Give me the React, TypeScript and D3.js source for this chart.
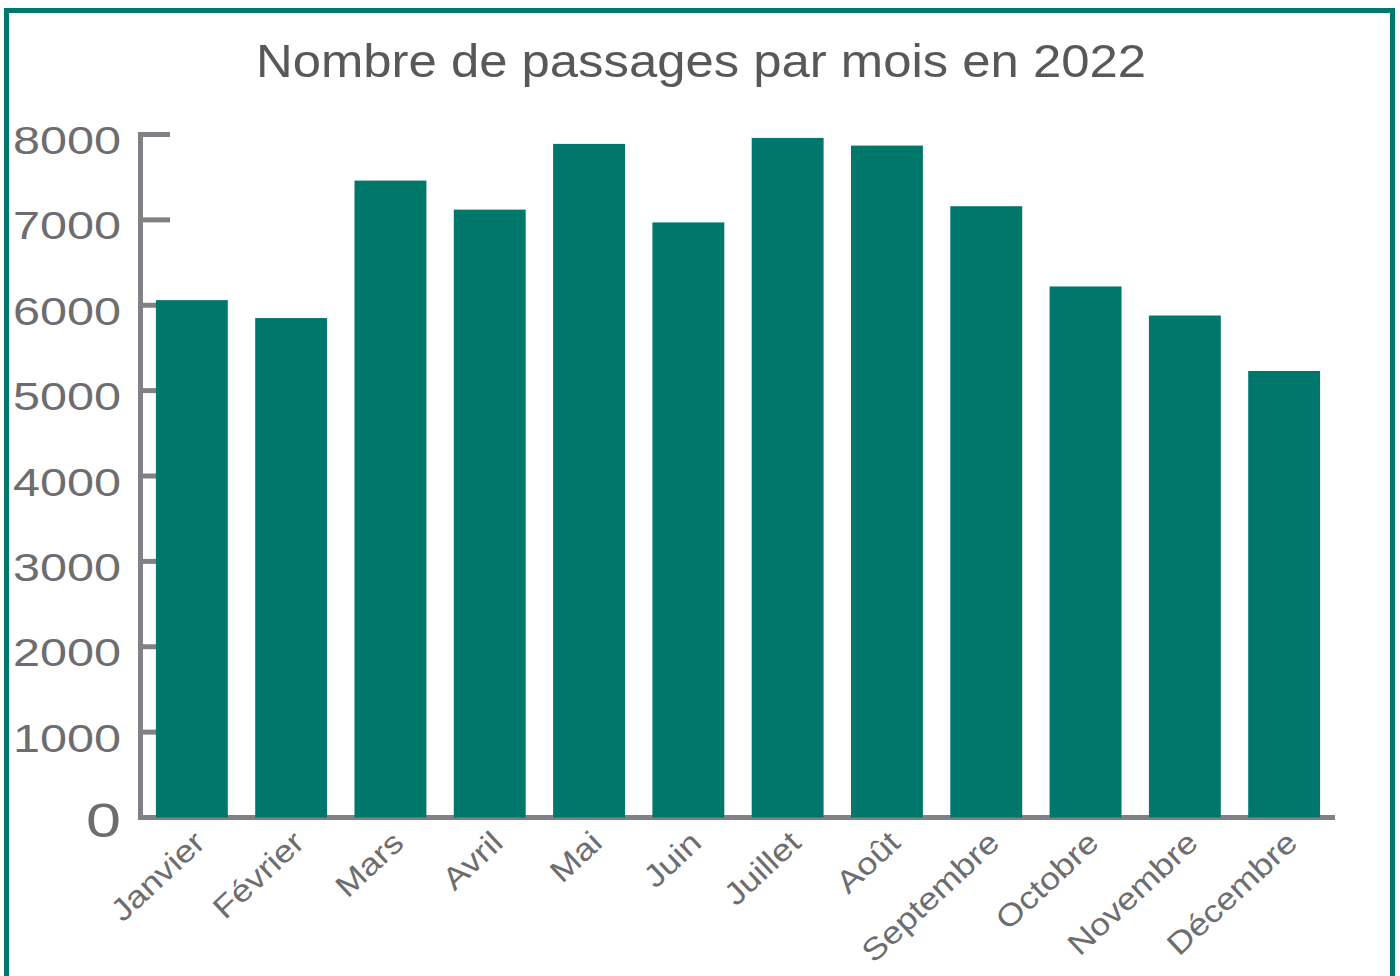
import React from "react";
import * as d3 from "d3";

const months = ["Janvier", "Février", "Mars", "Avril", "Mai", "Juin", "Juillet", "Août", "Septembre", "Octobre", "Novembre", "Décembre"];
const passages = [6060, 5850, 7460, 7120, 7890, 6970, 7960, 7870, 7160, 6220, 5880, 5230];
const yTicks = [0, 1000, 2000, 3000, 4000, 5000, 6000, 7000, 8000];
const title = "Nombre de passages par mois en 2022";

const W = 1400;
const H = 976;
const TEAL = "#00776B";
const AXIS = "#818185";
const LABEL = "#6d6d6f";
const FONT = "'Liberation Sans', Arial, Helvetica, sans-serif";

export default function App() {
  const y = d3.scaleLinear().domain([0, 8000]).range([817.5, 134.5]);
  const x = d3.scaleBand<string>().domain(months).range([141, 1335]).paddingInner(0.276).paddingOuter(0.15);
  const axisX = 140.5;

  return (
    <svg width={W} height={H} style={{ position: "absolute", left: 0, top: 0, background: "#fff" }} fontFamily={FONT}>
      <rect x={0} y={0} width={W} height={H} fill="#fff" />
      <rect x={6.5} y={10.5} width={1386} height={1000} fill="none" stroke={TEAL} strokeWidth={5} />
      <text x={701} y={77} textAnchor="middle" fontSize={47} fill="#58585a" textLength={890} lengthAdjust="spacingAndGlyphs">
        {title}
      </text>
      {/* y axis */}
      <line x1={axisX} x2={axisX} y1={y(8000) - 2.5} y2={y(0) + 2.5} stroke={AXIS} strokeWidth={5} />
      {yTicks.filter((t) => t > 0).map((t) => (
        <line key={"t" + t} x1={axisX} x2={170} y1={y(t)} y2={y(t)} stroke={AXIS} strokeWidth={5} />
      ))}
      {/* x axis */}
      <line x1={axisX - 2.5} x2={1335} y1={y(0)} y2={y(0)} stroke={AXIS} strokeWidth={5} />
      {yTicks.map((t) =>
        t === 0 ? (
          <text key={"l" + t} x={121} y={y(t) + 19} textAnchor="end" fontSize={48} fill={LABEL} textLength={35} lengthAdjust="spacingAndGlyphs">
            {d3.format("d")(t)}
          </text>
        ) : (
          <text key={"l" + t} x={121} y={y(t) + 19.5} textAnchor="end" fontSize={39} fill={LABEL} textLength={108} lengthAdjust="spacingAndGlyphs">
            {d3.format("d")(t)}
          </text>
        )
      )}
      {/* bars */}
      {months.map((m, i) => (
        <rect key={m} x={x(m)} y={y(passages[i])} width={x.bandwidth()} height={y(0) - y(passages[i])} fill={TEAL} />
      ))}
      {/* x labels */}
      {months.map((m) => {
        const cx = (x(m) as number) + x.bandwidth() / 2;
        return (
          <text
            key={"x" + m}
            transform={`translate(${cx + 15},${845}) rotate(-43) scale(1.15,1)`}
            textAnchor="end"
            fontSize={31}
            fill={LABEL}
          >
            {m}
          </text>
        );
      })}
    </svg>
  );
}
